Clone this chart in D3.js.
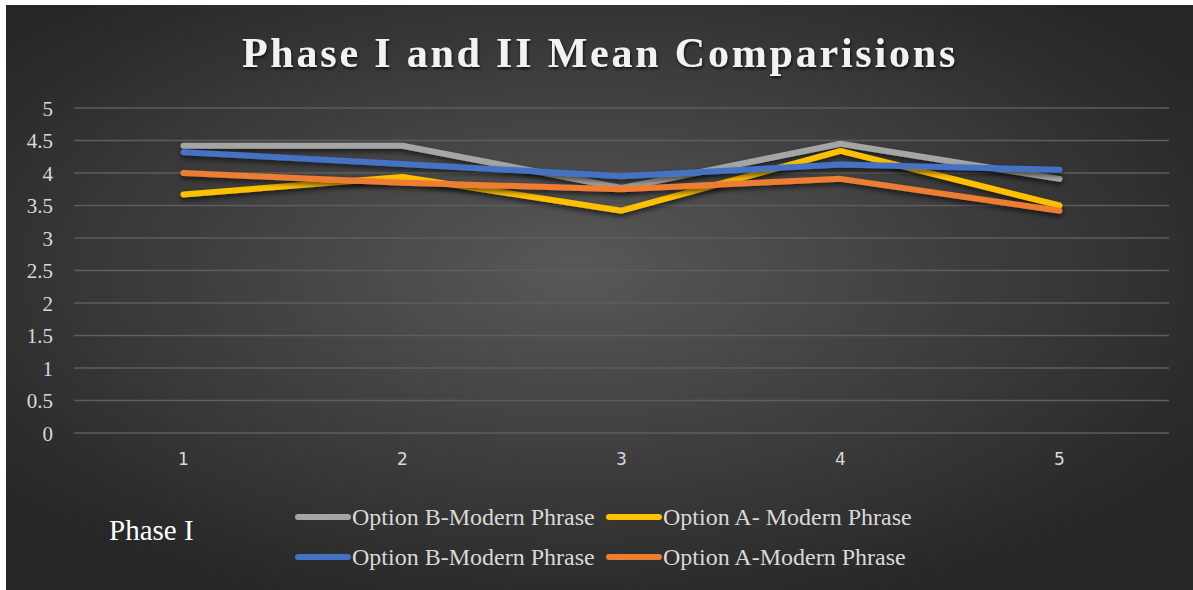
<!DOCTYPE html>
<html>
<head>
<meta charset="utf-8">
<script src="https://cdn.jsdelivr.net/npm/d3@7"></script>
<style>
  body { margin: 0; background: #fff; }
  svg { display: block; }
</style>
</head>
<body>
<div id="chart"></div>
<script>
// data
const categories = ["1", "2", "3", "4", "5"];
const yTicks = [0, 0.5, 1, 1.5, 2, 2.5, 3, 3.5, 4, 4.5, 5];
const seriesNames = ["Option B-Modern Phrase", "Option A- Modern Phrase", "Option B-Modern Phrase", "Option A-Modern Phrase"];
const seriesColors = ["#a5a5a5", "#ffc000", "#4472c4", "#ed7d31"];
const grayValues = [4.42, 4.42, 3.77, 4.45, 3.91];
const yellowValues = [3.67, 3.94, 3.42, 4.34, 3.5];
const blueValues = [4.32, 4.14, 3.95, 4.13, 4.05];
const orangeValues = [4.0, 3.85, 3.75, 3.91, 3.42];
const allValues = [grayValues, yellowValues, blueValues, orangeValues];

const W = 1193, H = 590;
let margin = { top: 108, right: 25, bottom: 157, left: 74 };
let width = 1169 - margin.left;
let height = 433 - margin.top;

let svg = d3.select("#chart").append("svg")
    .attr("width", W)
    .attr("height", H);

// background gradient + shadows
const defs = svg.append("defs");
const grad = defs.append("radialGradient")
    .attr("id", "bg")
    .attr("cx", "48%").attr("cy", "45%").attr("r", "62%");
grad.append("stop").attr("offset", "0%").attr("stop-color", "#585858");
grad.append("stop").attr("offset", "100%").attr("stop-color", "#262626");

const shadow = defs.append("filter").attr("id", "shadow")
    .attr("x", "-5%").attr("y", "-50%").attr("width", "110%").attr("height", "200%");
shadow.append("feDropShadow")
    .attr("dx", 0).attr("dy", 3).attr("stdDeviation", 2.5)
    .attr("flood-color", "#000").attr("flood-opacity", 0.6);

const tshadow = defs.append("filter").attr("id", "tshadow");
tshadow.append("feDropShadow")
    .attr("dx", 1).attr("dy", 2).attr("stdDeviation", 1.5)
    .attr("flood-color", "#000").attr("flood-opacity", 0.7);

svg.append("rect")
    .attr("x", 6).attr("y", 5)
    .attr("width", W - 6).attr("height", H - 5)
    .attr("fill", "url(#bg)");

// title
svg.append("text")
    .attr("x", 600)
    .attr("y", 67)
    .attr("text-anchor", "middle")
    .attr("fill", "#f2f2f2")
    .attr("font-family", "'Liberation Serif', 'Times New Roman', serif")
    .attr("font-weight", "bold")
    .attr("font-size", 42)
    .attr("letter-spacing", 2.8)
    .attr("filter", "url(#tshadow)")
    .text("Phase I and II Mean Comparisions");

let g = svg.append("g")
    .attr("transform", "translate(" + margin.left + "," + margin.top + ")");

// scales
const x = d3.scaleBand()
    .domain(categories)
    .range([0, width]);

const y = d3.scaleLinear()
    .domain([0, 5])
    .range([height, 0]);

// gridlines
g.append("g")
    .selectAll("line")
    .data(yTicks)
    .join("line")
    .attr("x1", 0)
    .attr("x2", width)
    .attr("y1", d => y(d))
    .attr("y2", d => y(d))
    .attr("stroke", "#5e5e5e")
    .attr("stroke-width", 1.3);

// y axis
const yAxis = g.append("g")
    .call(d3.axisLeft(y).tickValues(yTicks).tickSize(0).tickPadding(0).tickFormat(d => d))
    .attr("font-family", "'Liberation Serif', 'Times New Roman', serif")
    .attr("font-size", 21);
yAxis.select(".domain").remove();
yAxis.selectAll("text")
    .attr("x", -21)
    .attr("dy", "0.35em")
    .attr("fill", "#d9d9d9");

// x axis
const xAxis = g.append("g")
    .attr("transform", "translate(0," + height + ")")
    .call(d3.axisBottom(x).tickSize(0).tickPadding(0))
    .attr("font-family", "'DejaVu Sans', sans-serif")
    .attr("font-size", 17);
xAxis.select(".domain").remove();
xAxis.selectAll("text")
    .attr("y", 26)
    .attr("dy", "0.35em")
    .attr("fill", "#d9d9d9");

// lines
const line = d3.line()
    .x((d, i) => x(categories[i]) + x.bandwidth() / 2)
    .y(d => y(d));

g.append("g")
    .selectAll("path")
    .data(allValues)
    .join("path")
    .attr("d", d => line(d))
    .attr("fill", "none")
    .attr("stroke", (d, i) => seriesColors[i])
    .attr("stroke-width", 6)
    .attr("stroke-linecap", "round")
    .attr("stroke-linejoin", "round")
    .attr("filter", "url(#shadow)");

// legend
const legendPos = [[296, 517], [607, 517], [296, 557], [607, 557]];
const legend = svg.append("g")
    .selectAll("g")
    .data(seriesNames)
    .join("g")
    .attr("transform", (d, i) => "translate(" + legendPos[i][0] + "," + legendPos[i][1] + ")");
legend.append("line")
    .attr("x1", 2).attr("x2", 52)
    .attr("y1", 0).attr("y2", 0)
    .attr("stroke", (d, i) => seriesColors[i])
    .attr("stroke-width", 6)
    .attr("stroke-linecap", "round");
legend.append("text")
    .attr("x", 56)
    .attr("y", 0)
    .attr("dy", "0.33em")
    .attr("fill", "#d9d9d9")
    .attr("font-family", "'Liberation Serif', 'Times New Roman', serif")
    .attr("font-size", 24)
    .text(d => d);

svg.append("text")
    .attr("x", 109)
    .attr("y", 540)
    .attr("fill", "#ffffff")
    .attr("font-family", "'Liberation Serif', 'Times New Roman', serif")
    .attr("font-size", 29)
    .text("Phase I");
</script>
</body>
</html>
